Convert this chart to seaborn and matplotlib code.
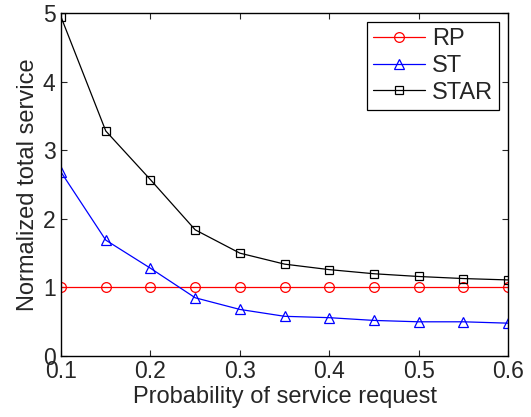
import matplotlib
matplotlib.use("Agg")
import matplotlib.pyplot as plt
import seaborn as sns
import pandas as pd

x = [0.1, 0.15, 0.2, 0.25, 0.3, 0.35, 0.4, 0.45, 0.5, 0.55, 0.6]
rp = [1.0, 1.0, 1.0, 1.0, 1.0, 1.0, 1.0, 1.0, 1.0, 1.0, 1.0]
st = [2.68, 1.69, 1.28, 0.85, 0.68, 0.58, 0.56, 0.52, 0.50, 0.50, 0.48]
star = [4.94, 3.28, 2.57, 1.84, 1.50, 1.34, 1.26, 1.20, 1.16, 1.13, 1.11]
series_names = ["RP", "ST", "STAR"]
xticks = [0.1, 0.2, 0.3, 0.4, 0.5, 0.6]
yticks = [0, 1, 2, 3, 4, 5]

sns.set_style("ticks")
plt.rcParams['font.family'] = ['Liberation Sans', 'DejaVu Sans']

df = pd.DataFrame({
    "x": x * 3,
    "y": rp + st + star,
    "series": [series_names[0]] * len(x) + [series_names[1]] * len(x) + [series_names[2]] * len(x),
})

fig = plt.figure(figsize=(5.31, 4.17), dpi=100)
ax = fig.add_axes([0.115, 0.146, 0.842, 0.823])

colors = {"RP": "#ff0000", "ST": "#0000ff", "STAR": "#000000"}
markers = {"RP": "o", "ST": "^", "STAR": "s"}
for name in series_names:
    sub = df[df["series"] == name]
    sns.lineplot(data=sub, x="x", y="y", ax=ax, color=colors[name], marker=markers[name],
                 markersize=7 if name != "STAR" else 6, markerfacecolor="none",
                 markeredgecolor=colors[name], markeredgewidth=0.9, linewidth=0.9, label=name)

ax.set_xlim(0.1, 0.6)
ax.set_ylim(0, 5)
ax.set_xticks(xticks)
ax.set_xticklabels([f"{t:.1f}" for t in xticks])
ax.set_yticks(yticks)
ax.set_yticklabels([str(t) for t in yticks])
ax.tick_params(direction="in", labelsize=16.5, top=True, right=True, length=4, width=0.8)
ax.tick_params(axis="x", pad=3)
ax.tick_params(axis="y", pad=4)
for s in ax.spines.values():
    s.set_visible(True)
    s.set_linewidth(1.0)
    s.set_color("black")
ax.set_xlabel("Probability of service request", fontsize=17, labelpad=2)
ax.set_ylabel("Normalized total service", fontsize=17, labelpad=3)

leg = ax.legend(loc="upper right", fontsize=17, frameon=True, fancybox=False,
                edgecolor="black", framealpha=1, borderpad=0.25, labelspacing=0.2,
                handlelength=2.2, handletextpad=0.3, borderaxespad=0.4)
leg.get_frame().set_linewidth(0.9)

fig.savefig("out.png", dpi=100)
